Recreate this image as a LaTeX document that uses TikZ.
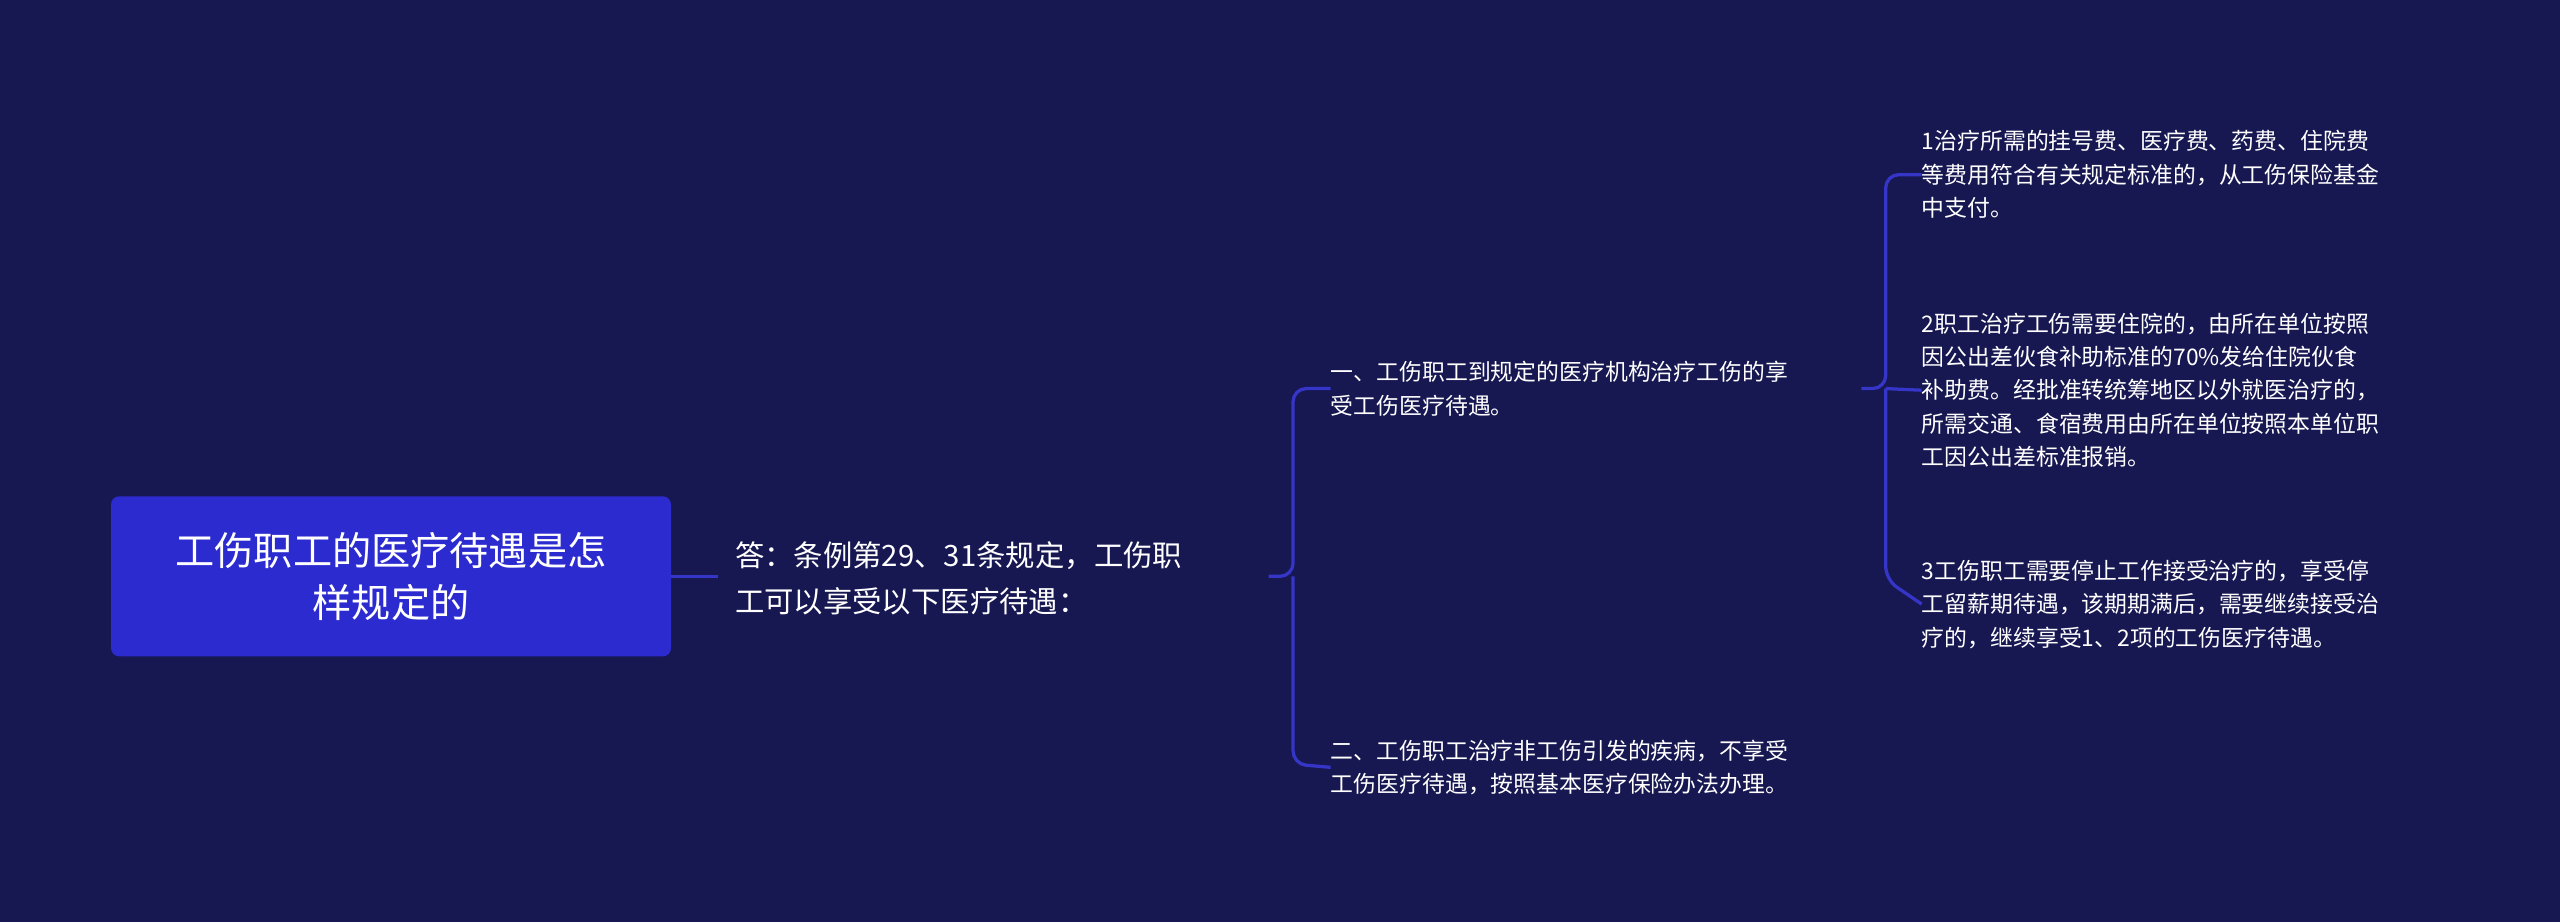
\documentclass[tikz,border=0pt]{standalone}
\usepackage{fontspec}
\setmainfont{Noto Sans CJK SC}
\definecolor{bg}{HTML}{171752}
\definecolor{rootc}{HTML}{2B2BCF}
\definecolor{linec}{HTML}{3535C8}
\begin{document}
\begin{tikzpicture}[x=1pt,y=-1pt,
  conn/.style={draw=linec,line width=2pt,rounded corners=8pt},
  midt/.style={text=white,font=\fontsize{18}{28}\selectfont,align=left,anchor=west,inner sep=0pt},
  leaft/.style={text=white,font=\fontsize{14}{20.5}\selectfont,align=left,anchor=west,inner sep=0pt}]
\fill[bg] (0,0) rectangle (1568,565);
\useasboundingbox (0,0) rectangle (1568,565);
\node[fill=rootc,rounded corners=5pt,minimum width=343pt,minimum height=98pt,text=white,align=center,font=\fontsize{24}{32}\selectfont] (root) at (239.5,353) {工伤职工的医疗待遇是怎\\样规定的};
\node[midt] (mid) at (450,354) {答：条例第29、31条规定，工伤职\\工可以享受以下医疗待遇：};
\node[leaft] (b1) at (815,238) {一、工伤职工到规定的医疗机构治疗工伤的享\\受工伤医疗待遇。};
\node[leaft] (b2) at (815,470) {二、工伤职工治疗非工伤引发的疾病，不享受\\工伤医疗待遇，按照基本医疗保险办法办理。};
\node[leaft] (l1) at (1177,107) {1治疗所需的挂号费、医疗费、药费、住院费\\等费用符合有关规定标准的，从工伤保险基金\\中支付。};
\node[leaft] (l2) at (1177,239) {2职工治疗工伤需要住院的，由所在单位按照\\因公出差伙食补助标准的70\%发给住院伙食\\补助费。经批准转统筹地区以外就医治疗的，\\所需交通、食宿费用由所在单位按照本单位职\\工因公出差标准报销。};
\node[leaft] (l3) at (1177,370) {3工伤职工需要停止工作接受治疗的，享受停\\工留薪期待遇，该期期满后，需要继续接受治\\疗的，继续享受1、2项的工伤医疗待遇。};
\draw[draw=linec,line width=2pt] (root.east) -- (440,353);
\coordinate (m1) at (777,353);
\draw[conn] (m1) -- (792,353) -- (792,238) -- (b1.west);
\draw[conn] (792,353) -- (792,468) -- (b2.west);
\coordinate (c1) at (1140,238);
\draw[conn] (c1) -- (1155,238) -- (1155,107) -- (l1.west);
\draw[conn] (1155,238) -- (1155,355) -- (l3.west);
\draw[draw=linec,line width=2pt] (1155,238) -- (l2.west);
\end{tikzpicture}
\end{document}
